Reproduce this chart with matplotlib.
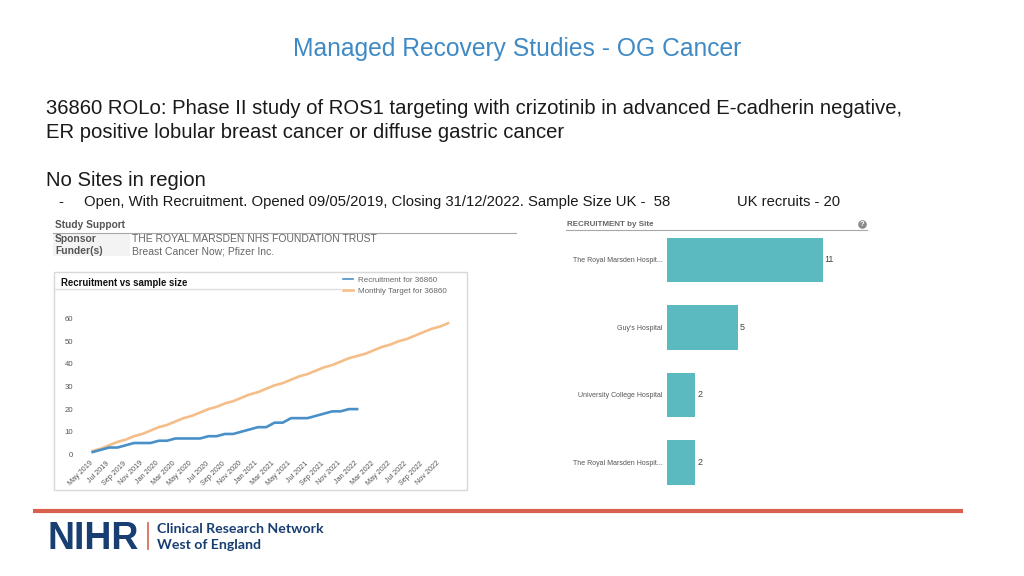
import matplotlib
matplotlib.use('Agg')
import matplotlib.pyplot as plt
from matplotlib.patches import Rectangle
from matplotlib.transforms import ScaledTranslation

plt.rcParams['font.family'] = ['Liberation Sans', 'DejaVu Sans']

W, H = 1024, 576

# line chart data
months = ['May 2019', 'Jun 2019', 'Jul 2019', 'Aug 2019', 'Sep 2019', 'Oct 2019', 'Nov 2019', 'Dec 2019',
          'Jan 2020', 'Feb 2020', 'Mar 2020', 'Apr 2020', 'May 2020', 'Jun 2020', 'Jul 2020', 'Aug 2020',
          'Sep 2020', 'Oct 2020', 'Nov 2020', 'Dec 2020', 'Jan 2021', 'Feb 2021', 'Mar 2021', 'Apr 2021',
          'May 2021', 'Jun 2021', 'Jul 2021', 'Aug 2021', 'Sep 2021', 'Oct 2021', 'Nov 2021', 'Dec 2021',
          'Jan 2022', 'Feb 2022', 'Mar 2022', 'Apr 2022', 'May 2022', 'Jun 2022', 'Jul 2022', 'Aug 2022',
          'Sep 2022', 'Oct 2022', 'Nov 2022', 'Dec 2022']
recruitment = [1, 2, 3, 3, 4, 5, 5, 5, 6, 6, 7, 7, 7, 7, 8, 8, 9, 9, 10, 11, 12, 12, 14, 14,
               16, 16, 16, 17, 18, 19, 19, 20, 20]
target = [1.5, 2.5, 4, 5.5, 6.5, 8, 9, 10.5, 12, 13, 14.5, 16, 17, 18.5, 20, 21, 22.5, 23.5, 25, 26.5, 27.5, 29,
          30.5, 31.5, 33, 34.5, 35.5, 37, 38.5, 39.5, 41, 42.5, 43.5, 44.5, 46, 47.5, 48.5, 50, 51, 52.5, 54,
          55.5, 56.5, 58]
y_ticks = [0, 10, 20, 30, 40, 50, 60]

# bar chart data
sites = ['The Royal Marsden Hospit...', "Guy's Hospital", 'University College Hospital', 'The Royal Marsden Hospit...']
site_recruits = [11, 5, 2, 2]


def px_axes(left, top, right, bottom):
    return fig.add_axes([left / W, 1 - bottom / H, (right - left) / W, (bottom - top) / H])


fig = plt.figure(figsize=(W / 100, H / 100), dpi=100, facecolor='white')

# overlay in pixel coordinates for the slide furniture
bg = fig.add_axes([0, 0, 1, 1])
bg.set_xlim(0, W)
bg.set_ylim(H, 0)
bg.axis('off')

bg.text(517, 49, 'Managed Recovery Studies - OG Cancer', color='#3F8AC5', fontsize=17.75, ha='center', va='center')
bg.text(46, 108, '36860 ROLo: Phase II study of ROS1 targeting with crizotinib in advanced E-cadherin negative,',
        color='#1a1a1a', fontsize=14.62, va='center')
bg.text(46, 133, 'ER positive lobular breast cancer or diffuse gastric cancer', color='#1a1a1a', fontsize=14.62, va='center')
bg.text(46, 181, 'No Sites in region', color='#1a1a1a', fontsize=14.62, va='center')
bg.text(58, 202, '-', color='#1a1a1a', fontsize=10.7, va='center')
bg.text(84, 202, 'Open, With Recruitment. Opened 09/05/2019, Closing 31/12/2022. Sample Size UK -  58',
        color='#1a1a1a', fontsize=10.7, va='center')
bg.text(737, 202, 'UK recruits - 20', color='#1a1a1a', fontsize=10.6, va='center')

# study support block
bg.text(55, 225.5, 'Study Support', color='#555555', fontsize=7.3, fontweight='bold', va='center')
bg.add_patch(Rectangle((53, 233), 77, 23, color='#F3F3F3', lw=0))
bg.plot([53, 516], [232.5, 232.5], color='#A8A8A8', lw=0.8)
bg.text(55, 239, 'Sponsor', color='#555555', fontsize=7.4, fontweight='bold', va='center')
bg.text(55, 251, 'Funder(s)', color='#555555', fontsize=7.4, fontweight='bold', va='center')
bg.text(132, 239, 'THE ROYAL MARSDEN NHS FOUNDATION TRUST', color='#666666', fontsize=7.5, va='center')
bg.text(132, 251, 'Breast Cancer Now; Pfizer Inc.', color='#666666', fontsize=7.5, va='center')

# line chart frame
bg.add_patch(Rectangle((53.5, 271.5), 413, 218, fc='white', ec='#D8D8D8', lw=1))
bg.plot([54, 340], [289, 289], color='#DDDDDD', lw=1)
bg.text(61, 282.5, 'Recruitment vs sample size', color='#111111', fontsize=6.9, fontweight='bold', va='center')

# bar chart header
bg.text(567, 224, 'RECRUITMENT by Site', color='#666666', fontsize=5.8, fontweight='bold', va='center')
bg.plot([566, 867], [229.5, 229.5], color='#A8A8A8', lw=0.8)
bg.plot([861.7], [224], 'o', color='#8A8A8A', ms=6.2, mew=0)
bg.text(861.7, 224.3, '?', color='white', fontsize=5.5, fontweight='bold', ha='center', va='center')

# footer
bg.plot([33, 963], [511, 511], color='#D9604F', lw=3, solid_capstyle='butt')
bg.text(47, 549, 'NIHR', color='#193E72', fontsize=27, fontweight='bold', va='baseline')
bg.plot([147.5, 147.5], [523, 549], color='#D9604F', lw=1.2)
bg.text(157, 529, 'Clinical Research Network', color='#193E72', fontsize=10.2, fontweight='bold', family='Lato', va='center')
bg.text(157, 545, 'West of England', color='#193E72', fontsize=10.2, fontweight='bold', family='Lato', va='center')

# line chart
ax = px_axes(92.7, 318.7, 448, 454.3)
ax.patch.set_alpha(0)
x = list(range(len(months)))
ax.plot(x, target, color='#F5BE88', lw=1.9, solid_joinstyle='round', label='Monthly Target for 36860', clip_on=False)
ax.plot(x[:len(recruitment)], recruitment, color='#4A90C8', lw=1.9, solid_joinstyle='round',
        label='Recruitment for 36860', clip_on=False)
ax.set_xlim(0, len(months) - 1)
ax.set_ylim(0, 60)
ax.set_yticks(y_ticks)
ax.set_xticks(x[::2])
ax.set_xticklabels(months[::2], rotation=45, ha='right', rotation_mode='anchor')
ax.tick_params(axis='x', length=0, labelsize=5.2, labelcolor='#555555', pad=4)
ax.tick_params(axis='y', length=0, labelsize=5.6, labelcolor='#555555', pad=14)
# labels end a little left of their tick in the reference
shift = ScaledTranslation(-3 / 100, 0, fig.dpi_scale_trans)
for lab in ax.get_xticklabels():
    lab.set_transform(lab.get_transform() + shift)
for s in ax.spines.values():
    s.set_visible(False)
handles, labels = ax.get_legend_handles_labels()
leg = bg.legend(handles[::-1], labels[::-1], loc='upper left', bbox_to_anchor=(343 / W, 1 - 276.5 / H),
                bbox_transform=fig.transFigure, frameon=False, fontsize=5.8, labelcolor='#666666',
                handlelength=1.25, handletextpad=0.65, labelspacing=0.4, borderpad=0, borderaxespad=0)
leg.get_lines()[0].set_linewidth(1.2)

# bar chart
bx = px_axes(666.7, 226.1, 865.2, 496)
bx.patch.set_alpha(0)
bars = bx.barh(range(len(sites)), site_recruits, height=0.66, color='#5ABAC0')
bx.set_xlim(0, 14)
bx.set_ylim(3.5, -0.5)
bx.set_xticks([])
bx.set_yticks(range(len(sites)))
bx.set_yticklabels(sites)
bx.tick_params(axis='y', length=0, labelsize=5.0, labelcolor='#555555', pad=3)
bx.bar_label(bars, labels=[str(v) for v in site_recruits], padding=1.5, fontsize=6.5, color='#444444')
for s in bx.spines.values():
    s.set_visible(False)

fig.savefig('out.png', dpi=100)
